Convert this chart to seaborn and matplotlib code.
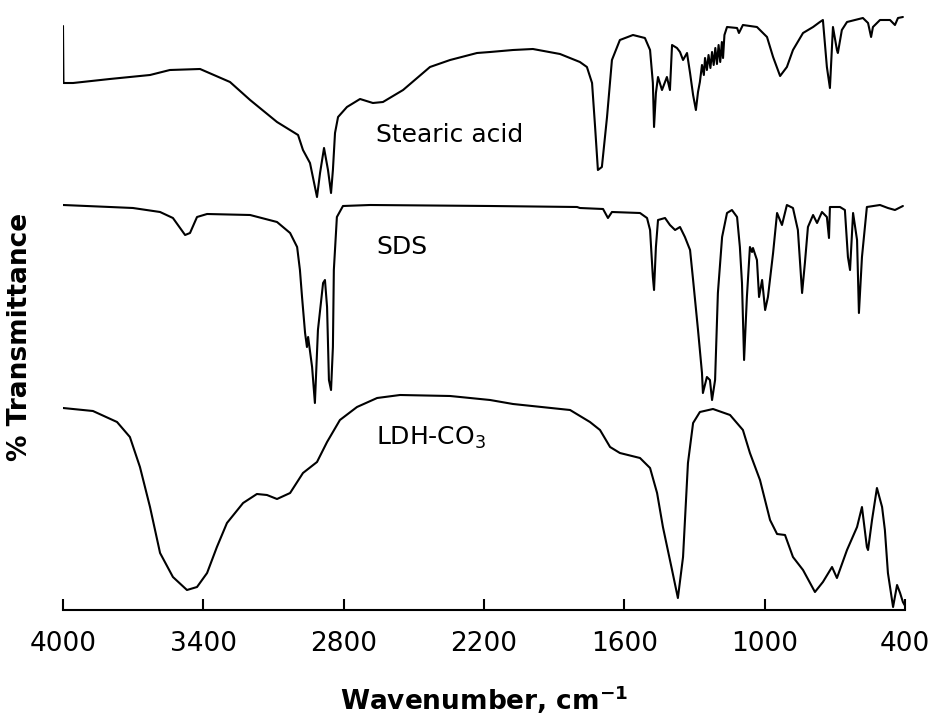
import numpy as np
import pandas as pd
import matplotlib
matplotlib.use("Agg")
import matplotlib.pyplot as plt
import seaborn as sns

# ---- data (wavenumber cm-1, offset transmittance in arbitrary units) ----
stearic_wn = [4000, 3998, 3957, 3800, 3628, 3543, 3414, 3286, 3200, 3085, 2995, 2974, 2944,
              2914, 2901, 2884, 2867, 2854, 2846, 2837, 2824, 2786, 2730, 2675, 2632,
              2546, 2431, 2345, 2230, 2174, 2076, 1991, 1875, 1790, 1760, 1738, 1725,
              1713, 1696, 1674, 1653, 1619, 1563, 1512, 1490, 1478, 1473, 1465, 1456,
              1439, 1418, 1405, 1396, 1375, 1362, 1349, 1332, 1319, 1306, 1294, 1285,
              1277, 1268, 1260, 1255, 1247, 1240, 1232, 1225, 1218, 1211, 1204, 1197,
              1190, 1183, 1178, 1172, 1161, 1118, 1110, 1093, 1033, 990, 964, 934,
              905, 879, 836, 793, 764, 751, 734, 721, 708, 691, 687, 670, 648, 580,
              558, 545, 537, 507, 464, 443, 430, 409]
stearic_t = [584, 527, 527, 531, 535, 540, 541, 528, 510, 488, 475, 460, 447,
             413, 437, 462, 440, 417, 440, 477, 493, 503, 511, 507, 508,
             520, 543, 550, 557, 558, 560, 561, 556, 548, 543, 527, 483,
             440, 443, 493, 550, 570, 575, 572, 560, 527, 483, 517, 533,
             520, 533, 520, 565, 562, 558, 550, 557, 537, 515, 500, 518,
             528, 545, 535, 552, 540, 555, 542, 558, 545, 562, 546, 565,
             548, 568, 552, 575, 583, 582, 577, 585, 583, 573, 553, 534,
             543, 560, 577, 583, 588, 590, 543, 522, 583, 560, 557, 580, 588, 592,
             587, 573, 583, 590, 590, 585, 592, 593]

sds_wn = [4000, 3799, 3701, 3585, 3530, 3478, 3457, 3427, 3384, 3200, 3085, 3029,
          2999, 2987, 2978, 2965, 2957, 2952, 2935, 2923, 2910, 2888, 2880, 2871,
          2863, 2854, 2846, 2842, 2829, 2803, 2687, 2174, 1802, 1790, 1691, 1670,
          1653, 1533, 1503, 1490, 1478, 1473, 1465, 1456, 1426, 1405, 1383, 1362,
          1341, 1319, 1306, 1285, 1268, 1264, 1247, 1234, 1225, 1212, 1200, 1182,
          1161, 1140, 1118, 1106, 1097, 1088, 1076, 1063, 1054, 1050, 1033, 1024,
          1011, 998, 986, 964, 947, 926, 905, 879, 858, 840, 828, 815, 793, 776,
          755, 734, 725, 721, 678, 657, 644, 635, 622, 605, 597, 584, 563, 507,
          473, 443, 409]
sds_t = [405, 403, 402, 398, 392, 375, 377, 393, 396, 395, 388, 377,
         363, 340, 313, 277, 263, 273, 243, 207, 280, 327, 330, 303,
         230, 220, 263, 340, 393, 404, 405, 404, 403, 402, 401, 392,
         398, 397, 392, 380, 333, 320, 363, 390, 392, 385, 380, 383,
         373, 360, 330, 280, 237, 217, 233, 230, 210, 230, 317, 373,
         397, 400, 393, 363, 327, 250, 313, 363, 358, 362, 350, 313,
         330, 300, 313, 357, 397, 385, 405, 402, 380, 317, 347, 383, 395, 387,
         398, 393, 372, 403, 403, 400, 353, 340, 397, 370, 297, 353, 403, 405,
         402, 400, 404]

ldh_wn = [4000, 3872, 3769, 3714, 3671, 3628, 3585, 3530, 3470, 3427, 3384, 3342,
          3299, 3230, 3171, 3128, 3085, 3029, 2974, 2914, 2871, 2816, 2743, 2657,
          2559, 2345, 2174, 2076, 1832, 1747, 1704, 1661, 1619, 1533, 1490, 1460,
          1435, 1396, 1371, 1349, 1328, 1306, 1277, 1221, 1148, 1093, 1063, 1020,
          977, 947, 913, 879, 836, 785, 751, 712, 691, 648, 605, 584, 563, 558,
          541, 520, 498, 486, 473, 451, 434, 421, 409, 402]
ldh_t = [202, 199, 188, 173, 143, 103, 57, 33, 20, 23, 37, 63,
         87, 107, 116, 115, 111, 117, 137, 148, 168, 190, 203, 212,
         215, 214, 210, 206, 200, 188, 180, 163, 157, 152, 142, 117,
         83, 40, 12, 53, 147, 187, 198, 201, 195, 180, 157, 130,
         90, 76, 75, 53, 40, 18, 28, 43, 32, 60, 83, 103, 63, 60,
         90, 122, 103, 80, 37, 3, 25, 17, 8, 5]

labels = ["Stearic acid", "SDS", "LDH-CO$_3$"]
ticks = [4000, 3400, 2800, 2200, 1600, 1000, 400]

# ---- plot ----
sns.set_theme(style="white")
plt.rcParams['font.family'] = ['DejaVu Sans']
plt.rcParams['text.color'] = 'black'
plt.rcParams['axes.labelcolor'] = 'black'
plt.rcParams['xtick.color'] = 'black'

fig = plt.figure(figsize=(9.32, 7.25), dpi=100)
ax = fig.add_axes([63 / 932, 115 / 725, 842 / 932, 610 / 725])

for wn, t in [(stearic_wn, stearic_t), (sds_wn, sds_t), (ldh_wn, ldh_t)]:
    sns.lineplot(x=wn, y=t, ax=ax, color="black", linewidth=1.5,
                 sort=False, estimator=None)

ax.set_xlim(4000, 400)
ax.set_ylim(0, 610)
ax.set_xticks(ticks)
ax.set_xticklabels([str(v) for v in ticks], fontsize=19, color="black")
ax.set_yticks([])
for s in ["top", "right", "left"]:
    ax.spines[s].set_visible(False)
ax.spines["bottom"].set_linewidth(1.5)
ax.spines["bottom"].set_color("black")
ax.tick_params(axis="x", direction="in", length=8, width=1.5, color="black",
               pad=15, bottom=True)

ax.set_xlabel("Wavenumber, cm$^{\\mathbf{-1}}$", fontsize=19, fontweight="bold",
              color="black", labelpad=19)
ax.set_ylabel("% Transmittance", fontsize=19, fontweight="bold", color="black")
ax.yaxis.set_label_coords(-0.036, 0.447)

text_pos = [(2660, 475), (2660, 363), (2660, 172)]
for lab, (x, y) in zip(labels, text_pos):
    ax.text(x, y, lab, fontsize=18, va="center", ha="left", color="black")

fig.savefig("out.png", dpi=100)
